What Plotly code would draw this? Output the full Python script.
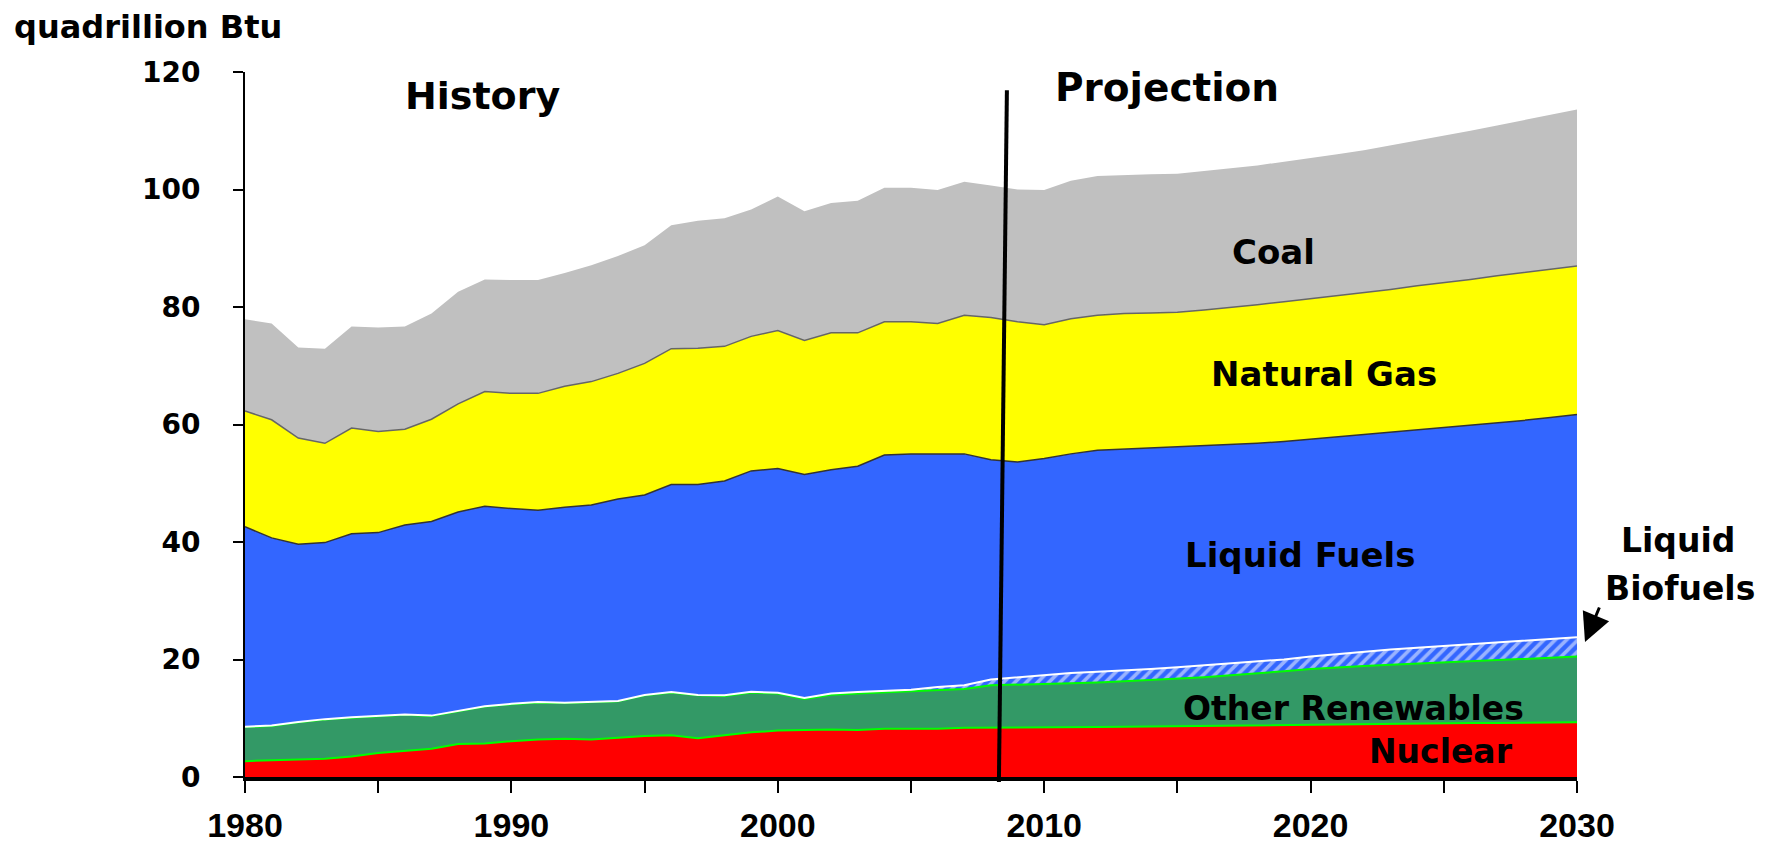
import plotly.graph_objects as go

anos = list(range(1980, 2031))

nuclear = [2.7, 2.9, 3.0, 3.1, 3.5, 4.1, 4.4, 4.8, 5.6, 5.7,
           6.1, 6.4, 6.5, 6.4, 6.7, 7.0, 7.1, 6.6, 7.1, 7.6,
           7.9, 8.0, 8.1, 8.0, 8.2, 8.2, 8.2, 8.4, 8.4, 8.4,
           8.4, 8.45, 8.5, 8.55, 8.6, 8.7, 8.75, 8.8, 8.85, 8.9,
           9.0, 9.05, 9.1, 9.1, 9.15, 9.15, 9.2, 9.2, 9.2, 9.25,
           9.3]

other_renewables = [5.8, 5.8, 6.3, 6.7, 6.6, 6.2, 6.2, 5.6, 5.6, 6.3,
                    6.3, 6.3, 6.1, 6.4, 6.2, 6.9, 7.3, 7.3, 6.7, 6.8,
                    6.3, 5.3, 5.9, 6.2, 6.2, 6.3, 6.6, 6.6, 7.2, 7.3,
                    7.4, 7.55, 7.6, 7.75, 7.9, 8.0, 8.25, 8.5, 8.75, 9.1,
                    9.4, 9.65, 9.8, 10.0, 10.15, 10.35, 10.5, 10.7, 10.9, 11.05,
                    11.2]

liquid_biofuels = [0.05, 0.05, 0.05, 0.05, 0.05, 0.05, 0.05, 0.05, 0.05, 0.05,
                   0.05, 0.05, 0.05, 0.05, 0.05, 0.05, 0.05, 0.05, 0.1, 0.1,
                   0.15, 0.15, 0.2, 0.25, 0.3, 0.35, 0.5, 0.6, 1.0, 1.3,
                   1.6, 1.7, 1.8, 1.8, 1.9, 2.0, 2.0, 2.0, 2.0, 2.0,
                   2.1, 2.2, 2.5, 2.6, 2.7, 2.8, 2.9, 3.0, 3.1, 3.2,
                   3.3]

liquid_fuels = [34.05, 31.95, 30.25, 30.05, 31.25, 31.25, 32.25, 33.05, 33.85, 34.05,
                33.25, 32.65, 33.25, 33.45, 34.35, 34.05, 35.35, 35.85, 36.5, 37.6,
                38.15, 38.05, 38.1, 38.45, 40.1, 40.15, 39.7, 39.4, 37.4, 36.6,
                36.8, 37.3, 37.7, 37.7, 37.6, 37.4, 37.3, 37.3, 37.2, 37.1,
                37.0, 37.0, 36.8, 36.9, 37.0, 37.1, 37.2, 37.4, 37.5, 37.7,
                37.9]

natural_gas = [19.7, 20.1, 18.1, 16.9, 18.0, 17.2, 16.3, 17.4, 18.4, 19.5,
               19.6, 19.9, 20.6, 21.0, 21.4, 22.4, 23.1, 23.2, 22.9, 22.9,
               23.5, 22.8, 23.3, 22.7, 22.7, 22.5, 22.2, 23.6, 24.2, 23.9,
               22.8, 23.0, 23.0, 23.1, 23.0, 23.0, 23.2, 23.3, 23.6, 23.8,
               23.9, 24.0, 24.3, 24.4, 24.6, 24.7, 24.9, 25.0, 25.2, 25.2,
               25.3]

coal = [15.6, 16.4, 15.4, 16.1, 17.3, 17.7, 17.5, 18.0, 19.1, 19.1,
        19.3, 19.3, 19.3, 19.8, 20.0, 20.1, 21.0, 21.7, 21.8, 21.6,
        22.8, 22.0, 22.1, 22.5, 22.8, 22.8, 22.7, 22.7, 22.5, 22.5,
        22.9, 23.5, 23.7, 23.6, 23.6, 23.6, 23.6, 23.7, 23.7, 23.8,
        23.9, 24.1, 24.2, 24.5, 24.7, 25.1, 25.3, 25.6, 25.9, 26.3,
        26.6]

ano_projecao = [2008.3, 2008.6]

FONTE = 'DejaVu Sans'

fig = go.Figure()

# camadas empilhadas, de baixo para cima
fig.add_trace(go.Scatter(
    x=anos, y=nuclear, name='Nuclear', stackgroup='one',
    fillcolor='#FF0000', line=dict(color='#00FF00', width=2)
))
fig.add_trace(go.Scatter(
    x=anos, y=other_renewables, name='Other Renewables', stackgroup='one',
    fillcolor='#339966', line=dict(color='#00FF00', width=2)
))
fig.add_trace(go.Scatter(
    x=anos, y=liquid_biofuels, name='Liquid Biofuels', stackgroup='one',
    fillcolor='#3366FF',
    fillpattern=dict(shape='/', fgcolor='white', bgcolor='#3366FF', size=8, solidity=0.45),
    line=dict(color='white', width=2)
))
fig.add_trace(go.Scatter(
    x=anos, y=liquid_fuels, name='Liquid Fuels', stackgroup='one',
    fillcolor='#3366FF', line=dict(color='#333333', width=1.5)
))
fig.add_trace(go.Scatter(
    x=anos, y=natural_gas, name='Natural Gas', stackgroup='one',
    fillcolor='#FFFF00', line=dict(color='#666666', width=1.5)
))
fig.add_trace(go.Scatter(
    x=anos, y=coal, name='Coal', stackgroup='one',
    fillcolor='#C0C0C0', line=dict(color='#C0C0C0', width=0)
))

# linha que separa histórico e projeção
fig.add_shape(type='line', xref='x', yref='paper',
              x0=ano_projecao[0], y0=-0.007, x1=ano_projecao[1], y1=0.974,
              line=dict(color='black', width=4))

rotulos = [
    ('History', 1988.9, 115.9, 38),
    ('Projection', 2014.6, 117.4, 39),
    ('Coal', 2018.6, 89.4, 34),
    ('Natural Gas', 2020.5, 68.6, 34),
    ('Liquid Fuels', 2019.6, 37.8, 34),
    ('Other Renewables', 2021.6, 11.7, 33),
    ('Nuclear', 2024.9, 4.3, 33),
]
for texto, x, y, tam in rotulos:
    fig.add_annotation(x=x, y=y, xref='x', yref='y', text=texto, showarrow=False,
                       xanchor='center', yanchor='middle',
                       font=dict(family=FONTE, size=tam, color='black', weight='bold'))

fig.add_annotation(x=-0.175, y=1.064, xref='paper', yref='paper',
                   xanchor='left', yanchor='middle',
                   text='quadrillion Btu', showarrow=False,
                   font=dict(family=FONTE, size=32, color='black', weight='bold'))
fig.add_annotation(x=1.076, y=0.335, xref='paper', yref='paper', text='Liquid',
                   xanchor='center', yanchor='middle', showarrow=False,
                   font=dict(family=FONTE, size=33, color='black', weight='bold'))
fig.add_annotation(x=1.077, y=0.267, xref='paper', yref='paper', text='Biofuels',
                   xanchor='center', yanchor='middle', showarrow=False,
                   font=dict(family=FONTE, size=33, color='black', weight='bold'))
# seta
fig.add_annotation(x=1.006, y=0.1915, xref='paper', yref='paper', text='',
                   showarrow=True, ax=15, ay=-36, arrowhead=2, arrowsize=1.9,
                   arrowwidth=3, arrowcolor='black')

fig.update_layout(
    width=1766, height=841,
    plot_bgcolor='white', paper_bgcolor='white',
    margin=dict(l=237, r=197, t=64, b=72),
    showlegend=False,
    xaxis=dict(
        range=[1980, 2030], tick0=1980, dtick=10, automargin=False,
        ticks='outside', ticklen=12, tickwidth=2, tickcolor='black',
        showline=True, linecolor='black', linewidth=4,
        showgrid=False, zeroline=False,
        minor=dict(dtick=5, tick0=1980, ticks='outside', ticklen=12, tickwidth=2,
                   tickcolor='black', showgrid=False),
        tickfont=dict(family='Liberation Sans', size=34, color='black', weight='bold'),
        ticklabelstandoff=3
    ),
    yaxis=dict(
        range=[0, 120], tick0=0, dtick=20, automargin=False,
        ticks='outside', ticklen=10, tickwidth=2, tickcolor='black',
        showline=True, linecolor='black', linewidth=2,
        showgrid=False, zeroline=False,
        tickfont=dict(family=FONTE, size=28, color='black', weight='bold'),
        ticklabelstandoff=27
    )
)

fig.write_html('out.html')
